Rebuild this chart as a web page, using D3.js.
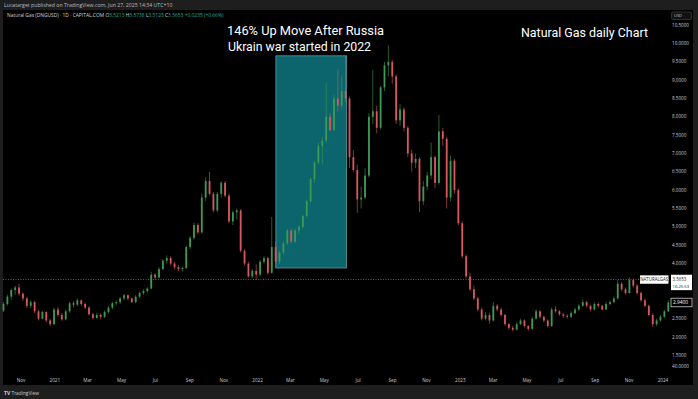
<!DOCTYPE html>
<html>
<head>
<meta charset="utf-8">
<script src="https://cdn.jsdelivr.net/npm/d3@7"></script>
<style>
  body { margin: 0; background: #1e1e1e; }
  svg { display: block; font-family: "Open Sans", "Noto Sans", sans-serif; }
  .title { font-family: Roboto, "Liberation Sans", sans-serif; }
</style>
</head>
<body>
<svg id="chart" width="698" height="399"></svg>
<script>
// weekly candles, Natural Gas (DNGUSD), first week starts Mon 28 Sep 2020
const firstWeek = new Date(2020, 8, 28);
const lastWeek = new Date(2024, 0, 8);

const open = [
  2.72, 2.90, 3.10, 3.28, 3.35, 3.18, 3.05, 2.85, 2.95, 2.70, 2.50, 2.68,
  2.45, 2.35, 2.75, 2.60, 2.48, 2.70, 2.92, 2.88, 3.00, 2.90, 2.80, 2.62,
  2.52, 2.60, 2.55, 2.68, 2.80, 2.92, 2.95, 3.05, 3.14, 3.05, 2.95, 3.10,
  3.20, 3.25, 3.32, 3.70, 3.62, 3.85, 4.08, 4.15, 4.00, 3.90, 3.85, 3.88,
  4.45, 4.70, 5.05, 4.85, 5.80, 6.25, 5.90, 5.45, 5.90, 6.20, 5.85, 5.15,
  5.40, 5.45, 4.35, 4.00, 3.65, 3.80, 3.70, 4.05, 4.15, 3.75, 4.45, 4.05,
  4.30, 4.55, 4.90, 4.60, 4.90, 5.00, 5.30, 5.70, 6.30, 6.75, 7.20, 7.35,
  8.00, 7.64, 8.50, 8.30, 8.70, 8.50, 6.90, 6.55, 5.75, 5.80, 6.40, 8.00,
  8.15, 7.70, 8.80, 9.40, 9.50, 9.10, 7.90, 8.20, 7.70, 7.00, 6.75, 6.85,
  5.70, 6.10, 6.40, 6.90, 6.20, 7.60, 7.40, 5.80, 6.80, 6.00, 5.10, 4.20,
  3.65, 3.30, 3.05, 2.75, 2.50, 2.60, 2.45, 2.85, 2.75, 2.60, 2.35, 2.25,
  2.20, 2.35, 2.45, 2.30, 2.22, 2.50, 2.70, 2.55, 2.45, 2.30, 2.75, 2.70,
  2.62, 2.58, 2.55, 2.65, 2.75, 2.85, 2.95, 2.85, 2.75, 2.90, 2.85, 2.75,
  2.90, 2.95, 3.05, 3.45, 3.30, 3.20, 3.55, 3.40, 3.20, 3.00, 2.85, 2.60,
  2.35, 2.45, 2.55, 2.70
];
const high = [
  2.95, 3.15, 3.32, 3.40, 3.45, 3.22, 3.10, 3.00, 2.98, 2.75, 2.72, 2.70,
  2.50, 2.80, 2.82, 2.65, 2.75, 2.96, 2.98, 3.05, 3.02, 2.94, 2.84, 2.66,
  2.66, 2.64, 2.72, 2.84, 2.96, 3.00, 3.09, 3.18, 3.16, 3.08, 3.14, 3.24,
  3.30, 3.36, 3.78, 3.74, 3.90, 4.12, 4.22, 4.20, 4.05, 3.96, 3.92, 4.50,
  4.75, 5.12, 5.10, 5.90, 6.35, 6.50, 5.95, 5.95, 6.25, 6.25, 5.90, 5.45,
  5.50, 5.48, 4.40, 4.05, 3.85, 3.98, 4.10, 4.20, 4.18, 5.27, 4.60, 4.35,
  4.60, 4.95, 4.95, 4.95, 5.05, 5.32, 5.75, 6.35, 6.80, 7.30, 7.45, 8.92,
  8.10, 8.60, 9.28, 9.10, 9.66, 8.55, 7.10, 6.70, 6.10, 6.60, 8.10, 9.28,
  8.30, 8.85, 9.50, 9.95, 9.55, 9.15, 8.35, 8.25, 7.75, 7.10, 7.00, 6.90,
  6.25, 6.50, 7.30, 6.95, 8.05, 7.70, 7.45, 6.95, 6.85, 6.05, 5.15, 4.25,
  3.75, 3.40, 3.10, 2.80, 2.68, 2.65, 2.95, 2.90, 2.80, 2.64, 2.38, 2.30,
  2.40, 2.50, 2.48, 2.32, 2.55, 2.76, 2.74, 2.58, 2.48, 2.80, 2.84, 2.74,
  2.66, 2.62, 2.70, 2.80, 2.90, 3.02, 2.98, 2.88, 2.95, 2.94, 2.88, 2.95,
  3.00, 3.10, 3.55, 3.50, 3.35, 3.63, 3.60, 3.44, 3.24, 3.04, 2.88, 2.64,
  2.50, 2.60, 2.74, 3.00
];
const low = [
  2.68, 2.85, 3.02, 3.15, 3.12, 2.98, 2.80, 2.78, 2.65, 2.45, 2.48, 2.40,
  2.30, 2.33, 2.55, 2.44, 2.45, 2.66, 2.80, 2.84, 2.85, 2.76, 2.58, 2.48,
  2.50, 2.48, 2.52, 2.64, 2.76, 2.86, 2.90, 3.00, 3.00, 2.92, 2.92, 3.06,
  3.15, 3.20, 3.30, 3.56, 3.60, 3.82, 4.00, 3.95, 3.84, 3.80, 3.78, 3.85,
  4.40, 4.65, 4.80, 4.82, 5.70, 5.85, 5.40, 5.40, 5.80, 5.80, 5.10, 5.05,
  5.20, 4.30, 3.95, 3.62, 3.60, 3.55, 3.65, 4.00, 3.70, 3.72, 3.88, 3.98,
  4.25, 4.50, 4.55, 4.55, 4.80, 4.95, 5.25, 5.65, 6.20, 6.70, 6.70, 7.30,
  7.60, 7.60, 8.15, 8.20, 8.40, 6.60, 6.50, 5.38, 5.50, 5.75, 6.35, 7.80,
  7.55, 7.65, 8.70, 9.10, 8.90, 7.80, 7.75, 7.60, 6.90, 6.50, 6.60, 5.40,
  5.60, 6.00, 6.30, 6.05, 6.15, 7.20, 5.50, 5.70, 5.90, 5.05, 4.15, 3.60,
  3.25, 3.00, 2.70, 2.45, 2.45, 2.36, 2.42, 2.70, 2.55, 2.30, 2.20, 2.15,
  2.18, 2.32, 2.26, 2.17, 2.20, 2.48, 2.50, 2.40, 2.26, 2.28, 2.66, 2.58,
  2.52, 2.50, 2.52, 2.62, 2.72, 2.82, 2.80, 2.70, 2.72, 2.80, 2.72, 2.73,
  2.86, 2.92, 3.02, 3.25, 3.15, 3.18, 3.35, 3.15, 2.96, 2.82, 2.56, 2.28,
  2.30, 2.42, 2.52, 2.68
];
const close = [
  2.90, 3.10, 3.28, 3.35, 3.18, 3.05, 2.85, 2.95, 2.70, 2.50, 2.68, 2.45,
  2.35, 2.75, 2.60, 2.48, 2.70, 2.92, 2.88, 3.00, 2.90, 2.80, 2.62, 2.52,
  2.60, 2.55, 2.68, 2.80, 2.92, 2.95, 3.05, 3.14, 3.05, 2.95, 3.10, 3.20,
  3.25, 3.32, 3.70, 3.62, 3.85, 4.08, 4.15, 4.00, 3.90, 3.85, 3.88, 4.45,
  4.70, 5.05, 4.85, 5.80, 6.25, 5.90, 5.45, 5.90, 6.20, 5.85, 5.15, 5.40,
  5.45, 4.35, 4.00, 3.65, 3.80, 3.70, 4.05, 4.15, 3.75, 4.45, 4.05, 4.30,
  4.55, 4.90, 4.60, 4.90, 5.00, 5.30, 5.70, 6.30, 6.75, 7.20, 7.35, 8.00,
  7.64, 8.50, 8.30, 8.70, 8.50, 6.90, 6.55, 5.75, 5.80, 6.40, 8.00, 8.15,
  7.70, 8.80, 9.40, 9.50, 9.10, 7.90, 8.20, 7.70, 7.00, 6.75, 6.85, 5.70,
  6.10, 6.40, 6.90, 6.20, 7.60, 7.40, 5.80, 6.80, 6.00, 5.10, 4.20, 3.65,
  3.30, 3.05, 2.75, 2.50, 2.60, 2.45, 2.85, 2.75, 2.60, 2.35, 2.25, 2.20,
  2.35, 2.45, 2.30, 2.22, 2.50, 2.70, 2.55, 2.45, 2.30, 2.75, 2.70, 2.62,
  2.58, 2.55, 2.65, 2.75, 2.85, 2.95, 2.85, 2.75, 2.90, 2.85, 2.75, 2.90,
  2.95, 3.05, 3.45, 3.30, 3.20, 3.55, 3.40, 3.20, 3.00, 2.85, 2.60, 2.35,
  2.45, 2.55, 2.70, 2.94
];

const priceTicks = [10.5, 10, 9.5, 9, 8.5, 8, 7.5, 7, 6.5, 6, 5.5, 5, 4.5, 4, 3.5, 3, 2.5, 2, 1.5];
const lastPrice = 3.5653;      // current price line
const visiblePrice = 2.94;     // last visible close marker
const moveBox = { from: new Date(2022, 1, 3), to: new Date(2022, 5, 10), low: 3.88, high: 9.66 };

const headerText = 'Lucatarget published on TradingView.com, Jun 27, 2025 14:34 UTC+10';
const symbolText = 'Natural Gas (DNGUSD) · 1D · CAPITAL.COM';
const ohlcText = [['O', '3.5213'], ['H', '3.5738'], ['L', '3.5123'], ['C', '3.5653'], ['', '+0.0235 (+0.66%)']];

const upColor = '#3c9a52';
const downColor = '#d9575e';
const axisText = '#c9ccd4';

const weeks = d3.timeMonday.range(firstWeek, d3.timeDay.offset(lastWeek, 1));
const candles = weeks.map((d, i) => ({ date: d, o: open[i], h: high[i], l: low[i], c: close[i] }));

const svg = d3.select('#chart');
const W = 698, H = 399;
const plot = { left: 3, top: 10, right: 669, bottom: 385 };

// frame
svg.append('rect').attr('width', W).attr('height', H).attr('fill', '#1e1e1e');
svg.append('rect')
  .attr('x', plot.left).attr('y', plot.top)
  .attr('width', 693 - plot.left).attr('height', plot.bottom - plot.top)
  .attr('fill', '#000');

const x = d3.scaleTime()
  .domain([new Date(2020, 10, 1), new Date(2024, 0, 1)])
  .range([21, 663]);
const y = d3.scaleLinear()
  .domain([2, 10.5])
  .range([337, 25]);

// header
svg.append('text')
  .attr('x', 4).attr('y', 7)
  .attr('fill', '#b8bbc3').attr('font-size', 5.2)
  .text(headerText);

const info = svg.append('text')
  .attr('x', 7).attr('y', 16.8)
  .attr('font-size', 4.9).attr('fill', '#d1d4dc');
info.append('tspan').text(symbolText + '  ');
ohlcText.forEach(([k, v]) => {
  info.append('tspan').attr('fill', '#d1d4dc').text(k ? ' ' + k : ' ');
  info.append('tspan').attr('fill', '#22ab94').text(v);
});

// annotation box
svg.append('rect')
  .attr('x', x(moveBox.from))
  .attr('y', y(moveBox.high))
  .attr('width', x(moveBox.to) - x(moveBox.from))
  .attr('height', y(moveBox.low) - y(moveBox.high))
  .attr('fill', '#0c646c')
  .attr('stroke', '#5d9ea4')
  .attr('stroke-width', 0.8);

// current price dotted line
svg.append('line')
  .attr('x1', plot.left).attr('x2', plot.right)
  .attr('y1', y(lastPrice)).attr('y2', y(lastPrice))
  .attr('stroke', '#8a8d95')
  .attr('stroke-width', 0.7)
  .attr('stroke-dasharray', '1,1.5');

// candles
const midWeek = d => d3.timeHour.offset(d, 60);
const bodyW = 1.8;

const g = svg.append('g').attr('class', 'candles');
const candle = g.selectAll('g')
  .data(candles)
  .enter()
  .append('g')
  .attr('fill', d => d.c >= d.o ? upColor : downColor)
  .attr('stroke', d => d.c >= d.o ? upColor : downColor);

candle.append('line')
  .attr('x1', d => x(midWeek(d.date)))
  .attr('x2', d => x(midWeek(d.date)))
  .attr('y1', d => y(d.h))
  .attr('y2', d => y(d.l))
  .attr('stroke-width', 0.6);

candle.append('rect')
  .attr('x', d => x(midWeek(d.date)) - bodyW / 2)
  .attr('y', d => y(Math.max(d.o, d.c)))
  .attr('width', bodyW)
  .attr('height', d => Math.max(0.6, Math.abs(y(d.o) - y(d.c))))
  .attr('stroke', 'none');

// titles
const titles = [
  { text: '146% Up Move After Russia', x: 227, y: 35, w: 157 },
  { text: 'Ukrain war started in 2022', x: 228, y: 50.5, w: 143 },
  { text: 'Natural Gas daily Chart', x: 521, y: 37, w: 127 }
];
svg.selectAll('text.title')
  .data(titles)
  .enter()
  .append('text')
  .attr('class', 'title')
  .attr('x', d => d.x).attr('y', d => d.y)
  .attr('fill', '#fff').attr('font-size', 12.8)
  .attr('textLength', d => d.w).attr('lengthAdjust', 'spacingAndGlyphs')
  .text(d => d.text);

// price axis: ticks hidden behind the price labels are skipped, as on the original
const covered = [y(lastPrice), y(visiblePrice)];
const priceAxis = svg.append('g').attr('class', 'price-axis');
priceAxis.selectAll('text')
  .data(priceTicks.filter(v => covered.every(c => Math.abs(y(v) - c) > 7)))
  .enter()
  .append('text')
  .attr('x', 672)
  .attr('y', d => y(d) + 1.6)
  .attr('fill', axisText)
  .attr('font-size', 4.6)
  .text(d => d3.format('.4f')(d));

svg.append('rect')
  .attr('x', 671.5).attr('y', 12).attr('width', 20).attr('height', 7.5)
  .attr('rx', 1.5).attr('fill', '#111').attr('stroke', '#4a4a4a').attr('stroke-width', 0.6);
svg.append('text')
  .attr('x', 674).attr('y', 17.3)
  .attr('fill', axisText).attr('font-size', 4)
  .text('USD');

// time axis
const timeAxis = svg.append('g').attr('class', 'time-axis');
const monthTicks = d3.timeMonth.every(2).range(new Date(2020, 10, 1), new Date(2024, 0, 2));
timeAxis.selectAll('text')
  .data(monthTicks)
  .enter()
  .append('text')
  .attr('x', d => x(d))
  .attr('y', 382)
  .attr('text-anchor', 'middle')
  .attr('fill', axisText)
  .attr('font-size', 4.6)
  .text(d => d.getMonth() === 0 ? d3.timeFormat('%Y')(d) : d3.timeFormat('%b')(d));

// price labels
svg.append('rect')
  .attr('x', 640).attr('y', y(lastPrice) - 4.2).attr('width', 28.5).attr('height', 8.4)
  .attr('fill', '#fff');
svg.append('text')
  .attr('x', 654.2).attr('y', y(lastPrice) + 1.6)
  .attr('text-anchor', 'middle').attr('fill', '#131722').attr('font-size', 4.4)
  .text('NATURALGAS');
svg.append('rect')
  .attr('x', 671).attr('y', y(lastPrice) - 4.8).attr('width', 21).attr('height', 15.4)
  .attr('fill', '#fff');
svg.append('text')
  .attr('x', 672.5).attr('y', y(lastPrice) + 1.2)
  .attr('fill', '#131722').attr('font-size', 4.4)
  .text(d3.format('.4f')(lastPrice));
svg.append('text')
  .attr('x', 672.5).attr('y', y(lastPrice) + 8.6)
  .attr('fill', '#131722').attr('font-size', 4.2)
  .text('16:25:53');

svg.append('rect')
  .attr('x', 671).attr('y', y(visiblePrice) - 4.3).attr('width', 21).attr('height', 8.6)
  .attr('fill', '#000').attr('stroke', '#e8e8e8').attr('stroke-width', 0.7);
svg.append('text')
  .attr('x', 673).attr('y', y(visiblePrice) + 1.7)
  .attr('fill', '#fff').attr('font-size', 4.8)
  .text(d3.format('.4f')(visiblePrice));

svg.append('text')
  .attr('x', 672).attr('y', 367.6)
  .attr('fill', axisText).attr('font-size', 4.6)
  .text('40.0000');

// footer logo
svg.append('text')
  .attr('x', 4).attr('y', 394.5)
  .attr('fill', '#d1d4dc').attr('font-size', 5).attr('font-weight', 700)
  .text('TV');
svg.append('text')
  .attr('x', 11.5).attr('y', 394.5)
  .attr('fill', '#c9ccd4').attr('font-size', 4.8)
  .text('TradingView');
</script>
</body>
</html>
